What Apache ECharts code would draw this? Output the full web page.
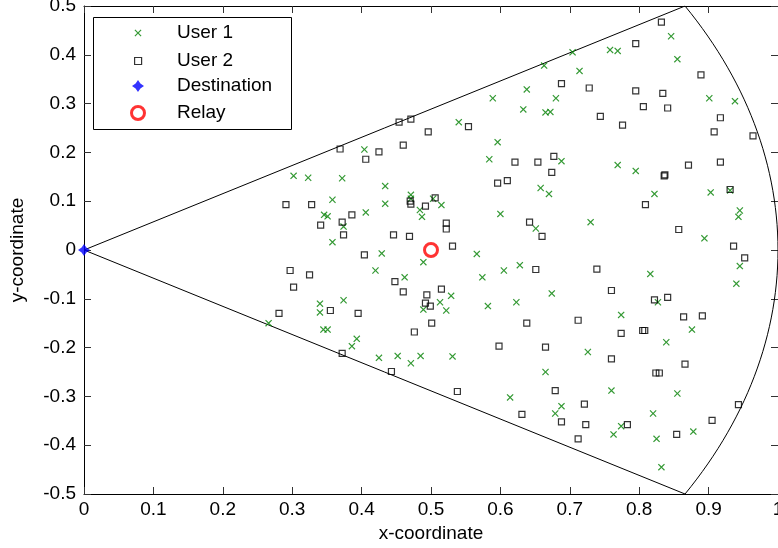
<!DOCTYPE html>
<html>
<head>
<meta charset="utf-8">
<script src="https://cdn.jsdelivr.net/npm/echarts@6/dist/echarts.min.js"></script>
<style>
  html, body { margin: 0; padding: 0; background: #fff; }
  #chart { width: 778px; height: 548px; }
</style>
</head>
<body>
<div id="chart"></div>
<script>
// points, [x, y]
const user1 = [
  [0.302, 0.152], [0.323, 0.148], [0.266, -0.150],
  [0.404, 0.206], [0.540, 0.262], [0.589, 0.311], [0.638, 0.329], [0.633, 0.288], [0.596, 0.221], [0.584, 0.186],
  [0.372, 0.147], [0.434, 0.131], [0.358, 0.103], [0.434, 0.095], [0.406, 0.077], [0.346, 0.072], [0.351, 0.069],
  [0.374, 0.048], [0.358, 0.016], [0.471, 0.113], [0.471, 0.105], [0.484, 0.082], [0.487, 0.068], [0.503, 0.105],
  [0.515, 0.092], [0.429, -0.007], [0.489, -0.025], [0.420, -0.042], [0.462, -0.056], [0.566, -0.008], [0.574, -0.056],
  [0.605, -0.042], [0.628, -0.031], [0.600, 0.074], [0.340, -0.110], [0.340, -0.128], [0.374, -0.103], [0.513, -0.107],
  [0.529, -0.094], [0.489, -0.122], [0.522, -0.124], [0.582, -0.115], [0.623, -0.107],
  [0.345, -0.163], [0.351, -0.163], [0.386, -0.197], [0.393, -0.182], [0.425, -0.221], [0.452, -0.217], [0.471, -0.232],
  [0.485, -0.217], [0.531, -0.218], [0.614, -0.302],
  [0.846, 0.438], [0.855, 0.391], [0.704, 0.405], [0.758, 0.410], [0.769, 0.408], [0.663, 0.378], [0.714, 0.367],
  [0.680, 0.311], [0.665, 0.282], [0.672, 0.283], [0.901, 0.311], [0.938, 0.305], [0.688, 0.182], [0.769, 0.174],
  [0.795, 0.162], [0.658, 0.127], [0.670, 0.115], [0.822, 0.115], [0.903, 0.118], [0.931, 0.122], [0.945, 0.081],
  [0.943, 0.068], [0.730, 0.057], [0.651, 0.044], [0.894, 0.024], [0.945, -0.033], [0.940, -0.069], [0.816, -0.049],
  [0.674, -0.089], [0.827, -0.107], [0.774, -0.133],
  [0.876, -0.163], [0.839, -0.189], [0.726, -0.209], [0.665, -0.250], [0.760, -0.288], [0.855, -0.294], [0.688, -0.320],
  [0.679, -0.335], [0.820, -0.335], [0.774, -0.361], [0.763, -0.378], [0.825, -0.387], [0.878, -0.372], [0.832, -0.445]
];

const user2 = [
  [0.291, 0.093], [0.297, -0.042], [0.325, -0.051], [0.302, -0.076], [0.281, -0.130],
  [0.369, 0.207], [0.406, 0.186], [0.425, 0.201], [0.454, 0.262], [0.471, 0.268], [0.460, 0.215], [0.496, 0.242],
  [0.554, 0.253], [0.621, 0.180],
  [0.328, 0.093], [0.386, 0.072], [0.372, 0.057], [0.341, 0.051], [0.374, 0.031], [0.470, 0.100], [0.471, 0.094],
  [0.492, 0.090], [0.506, 0.107], [0.522, 0.055], [0.522, 0.043], [0.446, 0.031], [0.469, 0.028], [0.531, 0.008],
  [0.404, -0.010], [0.448, -0.065], [0.460, -0.086], [0.515, -0.080], [0.494, -0.092], [0.492, -0.109], [0.499, -0.115],
  [0.355, -0.124], [0.395, -0.130], [0.501, -0.150], [0.596, 0.137], [0.610, 0.142], [0.642, 0.057], [0.638, -0.150],
  [0.476, -0.168], [0.372, -0.212], [0.443, -0.249], [0.598, -0.197], [0.538, -0.290], [0.631, -0.337],
  [0.832, 0.467], [0.795, 0.423], [0.889, 0.359], [0.688, 0.341], [0.728, 0.332], [0.795, 0.326], [0.834, 0.321],
  [0.806, 0.294], [0.841, 0.291], [0.744, 0.274], [0.776, 0.256], [0.917, 0.271], [0.908, 0.242], [0.964, 0.234],
  [0.654, 0.180], [0.677, 0.192], [0.871, 0.174], [0.917, 0.180],
  [0.674, 0.159], [0.836, 0.152], [0.837, 0.154], [0.931, 0.124], [0.809, 0.093], [0.660, 0.028], [0.857, 0.042],
  [0.936, 0.008], [0.952, -0.016], [0.651, -0.040], [0.739, -0.039], [0.760, -0.083], [0.822, -0.102], [0.841, -0.097],
  [0.712, -0.144], [0.864, -0.137], [0.891, -0.135],
  [0.774, -0.171], [0.805, -0.165], [0.808, -0.165], [0.665, -0.199], [0.760, -0.223], [0.866, -0.234], [0.824, -0.252],
  [0.829, -0.252], [0.679, -0.288], [0.721, -0.316], [0.688, -0.352], [0.723, -0.358], [0.783, -0.358], [0.712, -0.387],
  [0.854, -0.378], [0.905, -0.349], [0.943, -0.317]
];

const destination = [[0, 0]];
const relay = [[0.5, 0]];

const xRange = [0, 1];
const yRange = [-0.5, 0.5];
const tickStep = 0.1;

// coverage sector: radius 1, +-30 degrees around the x axis
const sectorRadius = 1;
const sectorHalfAngle = 30;

function sectorOutline() {
  const pts = [[0, 0]];
  for (let a = sectorHalfAngle; a >= -sectorHalfAngle; a -= 1) {
    const r = a * Math.PI / 180;
    pts.push([sectorRadius * Math.cos(r), sectorRadius * Math.sin(r)]);
  }
  pts.push([0, 0]);
  return pts;
}

const crossIcon = 'path://M0,1.2L1.2,0L5,3.8L8.8,0L10,1.2L6.2,5L10,8.8L8.8,10L5,6.2L1.2,10L0,8.8L3.8,5Z';
const squareIcon = 'path://M0,0L10,0L10,10L0,10Z';
const starIcon = 'path://M5,0L7,3L10,5L7,7L5,10L3,7L0,5L3,3Z';

const font = "'Liberation Sans', Arial, Helvetica, sans-serif";
const green = '#008000';

const chart = echarts.init(document.getElementById('chart'));

const tickStyle = { show: true, inside: true, length: 7, lineStyle: { color: '#333', width: 1 } };
const lineStyle = { show: true, onZero: false, lineStyle: { color: '#000', width: 1 } };

function legendRow(name, left, top, itemHeight, borderWidth) {
  return {
    data: [name],
    orient: 'vertical',
    left: left,
    top: top,
    padding: 0,
    itemWidth: 68,
    itemHeight: itemHeight,
    selectedMode: false,
    itemStyle: { borderWidth: borderWidth },
    textStyle: { fontFamily: font, fontSize: 19, lineHeight: 20, color: '#000' }
  };
}

chart.setOption({
  animation: false,
  backgroundColor: '#fff',
  grid: { left: 84, top: 6, width: 694, height: 488, containLabel: false, outerBoundsMode: 'none' },
  xAxis: [
    {
      type: 'value', position: 'bottom', min: xRange[0], max: xRange[1], interval: tickStep,
      name: 'x-coordinate', nameLocation: 'middle', nameGap: 28,
      nameTextStyle: { fontFamily: font, fontSize: 19, color: '#000' },
      axisLine: lineStyle, axisTick: tickStyle, splitLine: { show: false },
      axisLabel: { fontFamily: font, fontSize: 19, color: '#000', margin: 6 }
    },
    {
      type: 'value', position: 'top', min: xRange[0], max: xRange[1], interval: tickStep,
      axisLine: lineStyle, axisTick: tickStyle, splitLine: { show: false }, axisLabel: { show: false }
    }
  ],
  yAxis: [
    {
      type: 'value', position: 'left', min: yRange[0], max: yRange[1], interval: tickStep,
      name: 'y-coordinate', nameLocation: 'middle', nameGap: 57, nameRotate: 90,
      nameTextStyle: { fontFamily: font, fontSize: 19, color: '#000' },
      axisLine: lineStyle, axisTick: tickStyle, splitLine: { show: false },
      axisLabel: { fontFamily: font, fontSize: 19, color: '#000', margin: 8 }
    },
    {
      type: 'value', position: 'right', min: yRange[0], max: yRange[1], interval: tickStep,
      axisLine: lineStyle, axisTick: tickStyle, splitLine: { show: false }, axisLabel: { show: false }
    }
  ],
  graphic: [{
    type: 'rect', left: 93, top: 17, z: 3,
    shape: { width: 198, height: 112 },
    style: { fill: '#fff', stroke: '#000', lineWidth: 1 }
  }],
  legend: [
    legendRow('User 1', 134.5, 23, 7, 0),
    legendRow('User 2', 134, 51, 7, 1.2),
    legendRow('Destination', 132, 76, 12, 0),
    legendRow('Relay', 130, 103, 13, 3)
  ],
  series: [
    {
      name: 'sector', type: 'line', data: sectorOutline(), showSymbol: false, z: 1,
      lineStyle: { color: '#000', width: 1 }, silent: true
    },
    {
      name: 'User 1', type: 'scatter', data: user1, symbol: crossIcon, symbolSize: 7, clip: false,
      itemStyle: { color: green, borderWidth: 0 }
    },
    {
      name: 'User 2', type: 'scatter', data: user2, symbol: squareIcon, symbolSize: 6, clip: false,
      itemStyle: { color: 'rgba(0,0,0,0)', borderColor: '#000', borderWidth: 1.2 }
    },
    {
      name: 'Destination', type: 'scatter', data: destination, symbol: starIcon, symbolSize: 12, clip: false,
      itemStyle: { color: '#0000ff' }
    },
    {
      name: 'Relay', type: 'scatter', data: relay, symbol: 'circle', symbolSize: 13, clip: false,
      itemStyle: { color: 'rgba(0,0,0,0)', borderColor: '#ff0000', borderWidth: 3 }
    }
  ]
});
</script>
</body>
</html>
